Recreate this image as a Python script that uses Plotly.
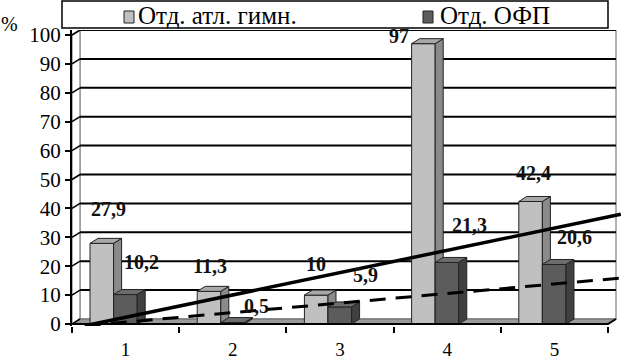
import plotly.graph_objects as go

# ---------------- data ----------------
categories = ["1", "2", "3", "4", "5"]
series_names = ["Отд. атл. гимн.", "Отд. ОФП"]
atl_gym = [27.9, 11.3, 10, 97, 42.4]
ofp = [10.2, 0.5, 5.9, 21.3, 20.6]
y_ticks = [0, 10, 20, 30, 40, 50, 60, 70, 80, 90, 100]
# hand-drawn trend lines: x in category units, y in %
trend_x = [0.62, 5.62]
trend_solid = [-0.6, 38.0]
trend_dashed = [-0.6, 15.9]

# ---------------- geometry / style ----------------
W, H = 621, 360
L, R, T, B = 72, 0, 30, 34
X_RANGE = [0.5, 5.6213]
Y_RANGE = [-0.69, 101.73]
px_x = (W - L - R) / (X_RANGE[1] - X_RANGE[0])
px_y = (H - T - B) / (Y_RANGE[1] - Y_RANGE[0])
DX = 8 / px_x      # depth offset in x units
DY = 5 / px_y      # depth offset in y units
BAR_W = 0.22
offsets = [-0.332, -0.112]
face_colors = [
    {"front": "#c0c0c0", "side": "#8a8a8a", "top": "#a8a8a8"},
    {"front": "#5c5c5c", "side": "#404040", "top": "#6c6c6c"},
]
FONT = "'Liberation Serif', 'DejaVu Serif', serif"

# label shifts in px (xshift, yshift) relative to bar front-top centre
label_shift = [
    [(7, 34), (1, 25), (0, 31), (-24, 8), (3, 28)],
    [(16, 33), (24, 17), (26, 32), (23, 37), (20, 27)],
]


def fmt(v):
    return str(int(v)) if float(v).is_integer() else f"{v:.1f}".replace(".", ",")


def px2paper_x(p):
    return (p - L) / (W - L - R)


def px2paper_y(p):
    return (H - B - p) / (H - T - B)


fig = go.Figure()
xs_cat = list(range(1, len(categories) + 1))
x0, x1 = 0.5, len(categories) + 0.5


def poly(xs, ys, fill, line="#222222", lw=1):
    fig.add_trace(go.Scatter(x=xs, y=ys, mode="lines", fill="toself",
                             fillcolor=fill, line=dict(color=line, width=lw),
                             hoverinfo="skip", showlegend=False))


def line(xs, ys, color="black", width=2, dash=None):
    fig.add_trace(go.Scatter(x=xs, y=ys, mode="lines",
                             line=dict(color=color, width=width, dash=dash),
                             hoverinfo="skip", showlegend=False))


# back wall, left wall, floor
poly([x0 + DX, x1 + DX, x1 + DX, x0 + DX, x0 + DX],
     [DY, DY, y_ticks[-1] + DY, y_ticks[-1] + DY, DY], "white", "#999999", 1.5)
poly([x0, x0 + DX, x0 + DX, x0, x0],
     [0, DY, y_ticks[-1] + DY, y_ticks[-1], 0], "white", "#999999", 1.5)
poly([x0, x1, x1 + DX, x0 + DX, x0], [0, 0, DY, DY, 0], "#9a9a9a", "#666666", 1)

# gridlines on back wall + diagonals on left wall
gx, gy, dxl, dyl = [], [], [], []
for v in y_ticks[1:]:
    gx += [x0 + DX, x1 + DX, None]
    gy += [v + DY, v + DY, None]
for v in y_ticks:
    dxl += [x0, x0 + DX, None]
    dyl += [v, v + DY, None]
line(gx, gy, "black", 2)
line(dxl, dyl, "black", 1.5)

# bars (front, side, top faces)
for s, vals in enumerate([atl_gym, ofp]):
    for c, v in zip(xs_cat, vals):
        a = c + offsets[s]
        b = a + BAR_W
        col = face_colors[s]
        poly([a, b, b, a, a], [0, 0, v, v, 0], col["front"])
        poly([b, b + DX, b + DX, b, b], [0, DY, v + DY, v, 0], col["side"])
        poly([a, b, b + DX, a + DX, a], [v, v, v + DY, v + DY, v], col["top"])

# x axis line
line([x0, x1, x1 + DX], [0, 0, DY], "black", 2)

# trend lines
line(trend_x, trend_solid, "black", 3.5)
line(trend_x, trend_dashed, "black", 3, "16px,10px")

# value labels
annotations = []
for s, vals in enumerate([atl_gym, ofp]):
    for i, (c, v) in enumerate(zip(xs_cat, vals)):
        sx, sy = label_shift[s][i]
        annotations.append(dict(
            x=c + offsets[s] + BAR_W / 2, y=v, xref="x", yref="y",
            text=f"<b>{fmt(v)}</b>", showarrow=False,
            xshift=sx, yshift=sy, xanchor="center", yanchor="middle",
            font=dict(family=FONT, size=20, color="#111111")))

# "%" axis label
annotations.append(dict(x=px2paper_x(9), y=px2paper_y(24), xref="paper", yref="paper",
                        text="%", showarrow=False, xanchor="center", yanchor="middle",
                        font=dict(family=FONT, size=20, color="black")))

# legend (manual)
shapes = [dict(type="rect", xref="paper", yref="paper",
               x0=px2paper_x(62), x1=px2paper_x(608),
               y0=px2paper_y(28), y1=px2paper_y(1),
               line=dict(color="black", width=1.5), fillcolor="white")]
legend_pos = [(124, 136), (423, 438)]
for s, name in enumerate(series_names):
    sq, tx = legend_pos[s]
    shapes.append(dict(type="rect", xref="paper", yref="paper",
                       x0=px2paper_x(sq), x1=px2paper_x(sq + 10),
                       y0=px2paper_y(23), y1=px2paper_y(11),
                       line=dict(color="#222222", width=1),
                       fillcolor=face_colors[s]["front"]))
    annotations.append(dict(x=px2paper_x(tx), y=px2paper_y(16), xref="paper", yref="paper",
                            text=name, showarrow=False, xanchor="left", yanchor="middle",
                            font=dict(family=FONT, size=25, color="black")))

fig.update_layout(
    width=W, height=H,
    margin=dict(l=L, r=R, t=T, b=B, pad=0),
    paper_bgcolor="white", plot_bgcolor="white",
    showlegend=False,
    font=dict(family=FONT),
    annotations=annotations, shapes=shapes,
    xaxis=dict(range=X_RANGE, tickvals=xs_cat, ticktext=categories, ticks="",
               showgrid=False, zeroline=False, showline=False,
               minor=dict(tickvals=[x0 + i for i in range(len(categories) + 1)],
                          ticks="outside", ticklen=6, tickwidth=1.5, tickcolor="black",
                          showgrid=False),
               tickfont=dict(family=FONT, size=19, color="black"),
               ticklabelstandoff=10, fixedrange=True),
    yaxis=dict(range=Y_RANGE, tickvals=y_ticks, ticks="outside", ticklen=5,
               tickwidth=1.5, tickcolor="black",
               showgrid=False, zeroline=False, showline=True, linewidth=2,
               linecolor="black",
               tickfont=dict(family=FONT, size=21, color="black"), fixedrange=True),
)

fig.write_html("out.html", config={"displayModeBar": False},
               post_script="document.body.style.margin='0px';document.body.style.overflow='hidden';")
